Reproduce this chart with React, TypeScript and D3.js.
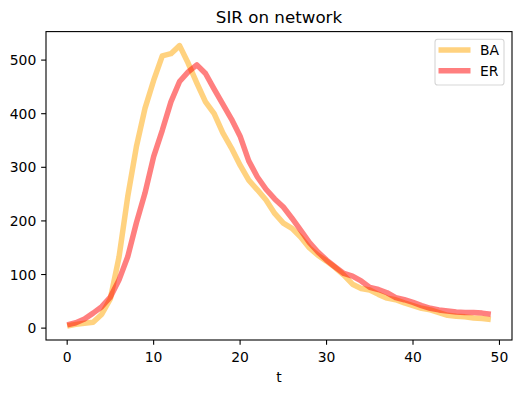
import React from "react";
import * as d3 from "d3";

const t = d3.range(0, 50);
const baValues = [
  4, 7, 9, 11, 26, 55, 133, 245, 338, 410, 462, 508, 512, 527, 494, 457, 422, 400, 364, 336,
  304, 276, 258, 239, 214, 196, 186, 170, 150, 136, 125, 113, 99, 82, 74, 71, 63, 56, 53, 47,
  42, 37, 34, 29, 24, 22, 21, 19, 18, 16,
];
const erValues = [
  6, 10, 17, 28, 40, 58, 90, 133, 196, 252, 320, 369, 422, 460, 478, 491, 475, 446, 418, 390,
  358, 312, 282, 259, 241, 226, 205, 183, 160, 142, 127, 114, 102, 97, 88, 76, 72, 66, 57, 53,
  48, 42, 37, 34, 32, 30, 29, 29, 28, 26,
];
const seriesNames = ["BA", "ER"];
const seriesColors = ["orange", "red"];
const xTicks = [0, 10, 20, 30, 40, 50];
const yTicks = [0, 100, 200, 300, 400, 500];

const width = 521;
const height = 393;
const margin = { top: 31.6, right: 9, bottom: 53, left: 46 };
const font = "DejaVu Sans, sans-serif";

const App = () => {
  const series = [baValues, erValues];
  const all = series.flat();
  const yMin = d3.min(all) as number;
  const yMax = d3.max(all) as number;
  const yPad = (yMax - yMin) * 0.05;
  const xPad = (t[t.length - 1] - t[0]) * 0.05;

  const x = d3
    .scaleLinear()
    .domain([t[0] - xPad, t[t.length - 1] + xPad])
    .range([margin.left, width - margin.right]);
  const y = d3
    .scaleLinear()
    .domain([yMin - yPad, yMax + yPad])
    .range([height - margin.bottom, margin.top]);

  const line = d3
    .line<number>()
    .x((d, i) => x(t[i]))
    .y((d) => y(d));

  const x0 = margin.left;
  const x1 = width - margin.right;
  const y0 = height - margin.bottom;
  const y1 = margin.top;
  const tick = 4.86;

  return (
    <svg
      width={width}
      height={height}
      style={{ position: "absolute", left: 0, top: 0, background: "#fff" }}
      fontFamily={font}
    >
      <rect width={width} height={height} fill="#fff" />
      {series.map((vals, k) => (
        <path
          key={k}
          d={line(vals) || ""}
          fill="none"
          stroke={seriesColors[k]}
          strokeOpacity={0.5}
          strokeWidth={5.5}
          strokeLinejoin="round"
        />
      ))}

      {/* spines */}
      <rect x={x0} y={y1} width={x1 - x0} height={y0 - y1} fill="none" stroke="#000" strokeWidth={1.1} />

      {/* x axis */}
      {xTicks.map((v) => (
        <g key={v}>
          <line x1={x(v)} x2={x(v)} y1={y0} y2={y0 + tick} stroke="#000" strokeWidth={1.1} />
          <text x={x(v)} y={361.5} fontSize={13.9} textAnchor="middle" fill="#000">
            {v}
          </text>
        </g>
      ))}
      <text x={(x0 + x1) / 2} y={381.5} fontSize={13.9} textAnchor="middle" fill="#000">
        t
      </text>

      {/* y axis */}
      {yTicks.map((v) => (
        <g key={v}>
          <line x1={x0 - tick} x2={x0} y1={y(v)} y2={y(v)} stroke="#000" strokeWidth={1.1} />
          <text x={x0 - tick - 4.86} y={y(v)} dy="0.36em" fontSize={13.9} textAnchor="end" fill="#000">
            {v}
          </text>
        </g>
      ))}

      {/* title */}
      <text x={(x0 + x1) / 2} y={23.3} fontSize={16.7} textAnchor="middle" fill="#000">
        SIR on network
      </text>

      {/* legend */}
      <rect
        x={435}
        y={39.3}
        width={69}
        height={45.7}
        rx={2.8}
        fill="#fff"
        fillOpacity={0.8}
        stroke="#ccc"
        strokeOpacity={0.8}
        strokeWidth={1.1}
      />
      {seriesNames.map((name, k) => (
        <g key={name}>
          <line
            x1={438.5}
            x2={470.5}
            y1={50 + k * 20.7}
            y2={50 + k * 20.7}
            stroke={seriesColors[k]}
            strokeOpacity={0.5}
            strokeWidth={5.5}
          />
          <text x={480} y={50 + k * 20.7} dy="0.36em" fontSize={13.9} fill="#000">
            {name}
          </text>
        </g>
      ))}
    </svg>
  );
};

export default App;
